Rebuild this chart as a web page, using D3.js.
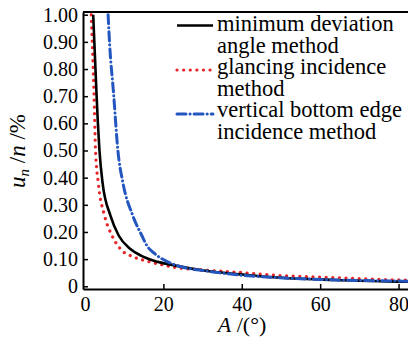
<!DOCTYPE html>
<html>
<head>
<meta charset="utf-8">
<script src="https://cdn.jsdelivr.net/npm/d3@7"></script>
</head>
<body style="margin:0">
<script>
// values
var minDevA = [2.1, 2.95, 3.3, 3.7, 4.5, 6.5, 8.6, 11.5, 14.4, 17.4, 22.8, 31.2, 39.6, 48, 64, 80.8, 84];
var minDevU = [1.0, 0.708, 0.60, 0.50, 0.38, 0.26, 0.187, 0.138, 0.112, 0.095, 0.077, 0.056, 0.044, 0.033, 0.023, 0.017, 0.016];

var glanceA = [1.6, 2.3, 2.7, 3.4, 5.0, 6.9, 9.0, 12.4, 15.7, 19.4, 22.8, 31.2, 39.6, 48, 64, 80.8, 84];
var glanceU = [1.0, 0.71, 0.50, 0.38, 0.26, 0.187, 0.138, 0.108, 0.093, 0.080, 0.070, 0.059, 0.051, 0.041, 0.032, 0.023, 0.022];

var vertA = [5.9, 6.3, 7.3, 8.4, 9.7, 12.2, 14.5, 15.7, 17.8, 21.1, 24.5, 31.2, 39.6, 48, 64, 80.8, 84];
var vertU = [1.0, 0.89, 0.71, 0.50, 0.38, 0.26, 0.187, 0.152, 0.12, 0.09, 0.072, 0.056, 0.041, 0.033, 0.023, 0.019, 0.018];

var xTicks = [0, 20, 40, 60, 80];
var yTicks = [0, 0.1, 0.2, 0.3, 0.4, 0.5, 0.6, 0.7, 0.8, 0.9, 1.0];
var yTickLabels = ["0", "0.10", "0.20", "0.30", "0.40", "0.50", "0.60", "0.70", "0.80", "0.90", "1.00"];

var seriesNames = [["minimum deviation", "angle method"],
                   ["glancing incidence", "method"],
                   ["vertical bottom edge", "incidence method"]];

var FONT = "'Liberation Serif'";
var W = 408, H = 341;
var plotL = 83, plotR = 417, plotT = 12, plotB = 289;

var svg = d3.select("body").append("svg")
    .attr("width", W)
    .attr("height", H);

var x = d3.scaleLinear().domain([-0.5, 84]).range([plotL, plotL + 84.5 * 3.92]);
var y = d3.scaleLinear().domain([-0.01, 1.01]).range([plotB, plotT]);

svg.append("clipPath").attr("id", "plot")
  .append("rect")
    .attr("x", plotL).attr("y", plotT)
    .attr("width", plotR - plotL).attr("height", plotB - plotT);

// top frame
svg.append("line")
    .attr("x1", plotL).attr("x2", plotR)
    .attr("y1", plotT).attr("y2", plotT)
    .attr("stroke", "#000").attr("stroke-width", 2);

var xAxis = svg.append("g")
    .attr("transform", "translate(0," + plotB + ")")
    .call(d3.axisBottom(x).tickValues(xTicks).tickSizeInner(-5).tickSizeOuter(0).tickPadding(8));

var yAxis = svg.append("g")
    .attr("transform", "translate(" + plotL + ",0)")
    .call(d3.axisLeft(y).tickValues(yTicks)
        .tickFormat(function(d, i) { return yTickLabels[i]; })
        .tickSizeInner(-5).tickSizeOuter(0).tickPadding(5));

[xAxis, yAxis].forEach(function(g) {
    g.attr("font-family", null).attr("font-size", null);
    g.select(".domain").attr("stroke-width", 2);
    g.selectAll(".tick line").attr("stroke-width", 1.5);
    g.selectAll("text").style("font-family", FONT).style("font-size", "20px").attr("fill", "#000");
});
xAxis.selectAll(".tick").filter(function(d) { return d === 0; }).select("line").remove();

function zip(a, b) { return a.map(function(v, i) { return [v, b[i]]; }); }

var line = d3.line()
    .x(function(d) { return x(d[0]); })
    .y(function(d) { return y(d[1]); })
    .curve(d3.curveMonotoneX);

var curves = svg.append("g").attr("clip-path", "url(#plot)");

var styles = [
    { color: "#000", width: 2.6, dash: null, cap: "butt" },
    { color: "#e8262a", width: 3.2, dash: "0.1,6.5", cap: "round" },
    { color: "#2456c0", width: 3, dash: "9,4,0.1,4", cap: "round" }
];

var data = [zip(minDevA, minDevU), zip(glanceA, glanceU), zip(vertA, vertU)];

// red first, then black, blue on top
[1, 0, 2].forEach(function(k) {
    curves.append("path")
        .attr("d", line(data[k]))
        .attr("fill", "none")
        .attr("stroke", styles[k].color)
        .attr("stroke-width", styles[k].width)
        .attr("stroke-linecap", styles[k].cap)
        .attr("stroke-dasharray", styles[k].dash);
});

// legend
var symY = [25.5, 70, 114];
var baseY = [31, 74, 117];
var legend = svg.append("g");
seriesNames.forEach(function(lines, k) {
    legend.append("line")
        .attr("x1", 177).attr("x2", 213)
        .attr("y1", symY[k]).attr("y2", symY[k])
        .attr("stroke", styles[k].color)
        .attr("stroke-width", styles[k].width)
        .attr("stroke-linecap", styles[k].cap)
        .attr("stroke-dasharray", styles[k].dash);
    lines.forEach(function(t, j) {
        legend.append("text")
            .attr("x", 217)
            .attr("y", baseY[k] + j * 21.5)
            .style("font-family", FONT)
            .style("font-size", "22.5px")
            .text(t);
    });
});

// axis titles
var xt = svg.append("text")
    .attr("x", 242).attr("y", 332)
    .attr("text-anchor", "middle")
    .style("font-family", FONT)
    .style("font-size", "22px");
xt.append("tspan").style("font-style", "italic").text("A");
xt.append("tspan").text(" /(\u00b0)");

var yt = svg.append("text")
    .attr("transform", "translate(25,151) rotate(-90)")
    .attr("text-anchor", "middle")
    .style("font-family", FONT)
    .style("font-size", "23px");
yt.append("tspan").style("font-style", "italic").text("u");
yt.append("tspan").style("font-style", "italic").style("font-size", "15px").attr("dy", 4).text("n");
yt.append("tspan").attr("dy", -4).text(" /");
yt.append("tspan").style("font-style", "italic").text("n");
yt.append("tspan").text(" /%");
</script>
</body>
</html>
